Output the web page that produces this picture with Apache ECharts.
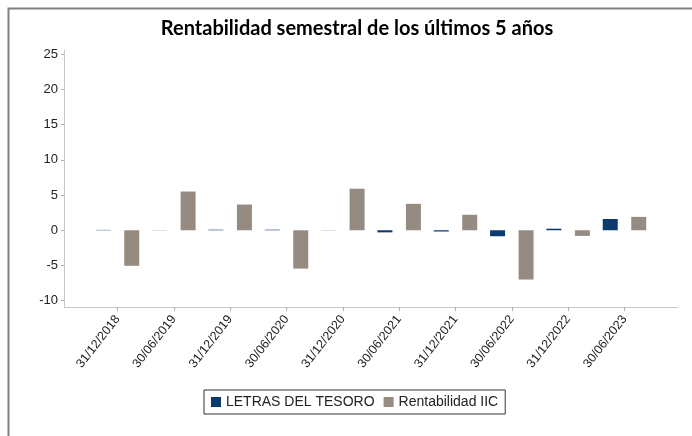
<!DOCTYPE html>
<html>
<head>
<meta charset="utf-8">
<script src="https://cdn.jsdelivr.net/npm/echarts@6/dist/echarts.min.js"></script>
<style>html,body{margin:0;padding:0;background:#fff}#c{width:692px;height:436px}</style>
</head>
<body>
<div id="c"></div>
<script>
const categories = ['31/12/2018','30/06/2019','31/12/2019','30/06/2020','31/12/2020','30/06/2021','31/12/2021','30/06/2022','31/12/2022','30/06/2023'];
const letras = [0.05, 0.02, 0.08, 0.08, 0.02, -0.3, -0.18, -0.85, 0.22, 1.6];
const rentabilidad = [-5.05, 5.5, 3.65, -5.45, 5.9, 3.75, 2.2, -7.0, -0.8, 1.9];
const yTicks = [-10, -5, 0, 5, 10, 15, 20, 25];
const seriesNames = ['LETRAS DEL TESORO', 'Rentabilidad IIC'];

const idx = categories.map((c, i) => i);
const chart = echarts.init(document.getElementById('c'), null, {renderer: 'canvas'});
chart.setOption({
  animation: false,
  backgroundColor: '#fff',
  title: {
    text: 'Rentabilidad semestral de los últimos 5 años',
    left: 352, top: 14, textAlign: 'center',
    textStyle: {fontFamily: 'Lato', fontWeight: 'bold', fontSize: 20, color: '#000'}
  },
  graphic: [{
    type: 'polyline', silent: true,
    shape: {points: [[8.5, 436], [8.5, 8.5], [692, 8.5]]},
    style: {stroke: '#808080', lineWidth: 2, fill: null}
  }],
  legend: {
    left: 204, top: 390,
    padding: [5, 7, 5, 7],
    borderColor: '#333', borderWidth: 1,
    itemWidth: 10, itemHeight: 10, itemGap: 9,
    icon: 'rect',
    textStyle: {fontFamily: 'Liberation Sans', fontSize: 14, color: '#222'},
    data: seriesNames
  },
  grid: {left: 64, right: 14, top: 50, bottom: 129, containLabel: false},
  xAxis: {
    type: 'value', min: -0.95, max: 9.95,
    splitLine: {show: false},
    axisLine: {show: true, onZero: false, lineStyle: {color: '#c8c8c8'}},
    axisTick: {show: true, length: 4, customValues: idx, lineStyle: {color: '#b0b0b0'}},
    axisLabel: {
      customValues: idx, rotate: 52, margin: 10,
      formatter: v => categories[Math.round(v)] || '',
      fontFamily: 'Liberation Sans', fontSize: 12.5, color: '#222'
    }
  },
  yAxis: {
    type: 'value', min: -10.9, max: 25.6,
    splitLine: {show: false},
    axisLine: {show: true, onZero: false, lineStyle: {color: '#c8c8c8'}},
    axisTick: {show: true, length: 3, customValues: yTicks, lineStyle: {color: '#b0b0b0'}},
    axisLabel: {customValues: yTicks, margin: 6, fontFamily: 'Liberation Sans', fontSize: 13, color: '#222'}
  },
  series: [
    {name: seriesNames[0], type: 'bar', barWidth: 15, barGap: '90%',
     itemStyle: {color: '#0b3a6e'}, data: letras.map((v, i) => [i, v])},
    {name: seriesNames[1], type: 'bar', barWidth: 15, barGap: '90%',
     itemStyle: {color: '#968b81'}, data: rentabilidad.map((v, i) => [i, v])}
  ]
});
</script>
</body>
</html>
